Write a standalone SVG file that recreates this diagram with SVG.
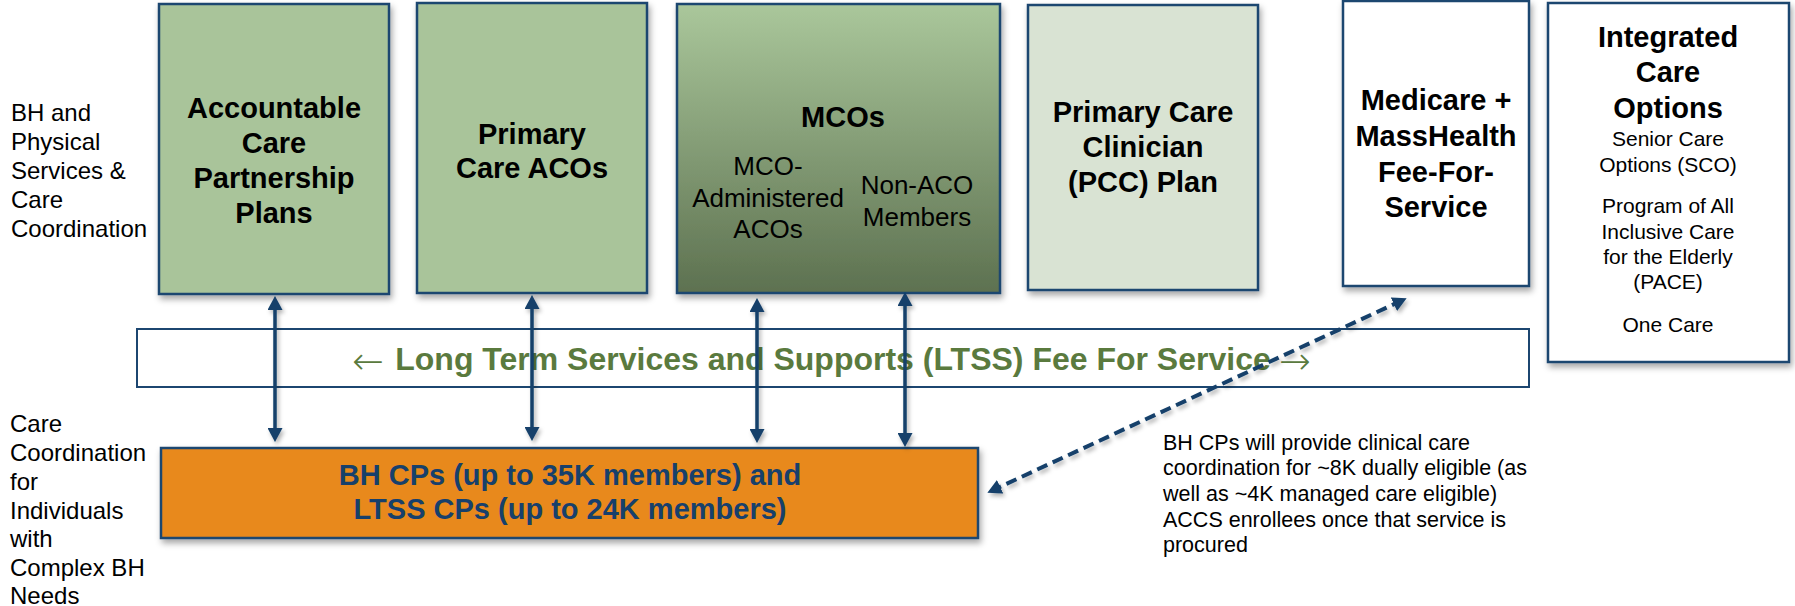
<svg xmlns="http://www.w3.org/2000/svg" width="1795" height="606" viewBox="0 0 1795 606">
  <style>
    text { font-family: "Liberation Sans", Arial, sans-serif; fill: #000; }
    .lbl { font-size: 24px; }
    .ttl { font-size: 29px; font-weight: bold; text-anchor: middle; }
    .sub { font-size: 26px; text-anchor: middle; }
    .sm { font-size: 21px; text-anchor: middle; }
    .note { font-size: 21.5px; }
    .box { stroke: #1c4670; stroke-width: 2.5; }
    .band { font-size: 32px; font-weight: bold; fill: #5a7a3e; }
    .band-arrow { font-family: "DejaVu Sans", sans-serif; font-weight: 200; font-size: 38px; fill: #5a7a3e; }
    .conn { stroke: #14406b; stroke-width: 3.5; fill: none; }
    .dash { stroke: #14406b; stroke-width: 4; fill: none; stroke-dasharray: 11 6; }
  </style>
  <defs>
    <filter id="shadow" x="-10%" y="-10%" width="125%" height="125%">
      <feDropShadow dx="2" dy="4" stdDeviation="3" flood-color="#000" flood-opacity="0.35"/>
    </filter>
    <filter id="lineShadow" x="-20%" y="-20%" width="140%" height="140%">
      <feDropShadow dx="2" dy="3" stdDeviation="2" flood-color="#000" flood-opacity="0.3"/>
    </filter>
    <linearGradient id="mcoFill" x1="0" y1="0" x2="0" y2="1">
      <stop offset="0" stop-color="#aac79b"/>
      <stop offset="1" stop-color="#5d7150"/>
    </linearGradient>
    <marker id="head" viewBox="0 0 14 15" markerWidth="14" markerHeight="15" refX="10" refY="7.5" orient="auto-start-reverse" markerUnits="userSpaceOnUse">
      <path d="M0,0 L14,7.5 L0,15 Z" fill="#14406b"/>
    </marker>
  </defs>

  <!-- row labels -->
  <g id="label-top">
    <text class="lbl" x="11" y="121">BH and</text>
    <text class="lbl" x="11" y="150">Physical</text>
    <text class="lbl" x="11" y="179">Services &amp;</text>
    <text class="lbl" x="11" y="208">Care</text>
    <text class="lbl" x="11" y="237">Coordination</text>
  </g>
  <g id="label-bottom">
    <text class="lbl" x="10" y="432">Care</text>
    <text class="lbl" x="10" y="461">Coordination</text>
    <text class="lbl" x="10" y="490">for</text>
    <text class="lbl" x="10" y="519">Individuals</text>
    <text class="lbl" x="10" y="547">with</text>
    <text class="lbl" x="10" y="576">Complex BH</text>
    <text class="lbl" x="10" y="604">Needs</text>
  </g>

  <!-- plan boxes -->
  <g id="acpp">
    <rect class="box" x="159" y="4" width="230" height="290" fill="#a9c49a" filter="url(#shadow)"/>
    <text class="ttl" x="274" y="118">Accountable</text>
    <text class="ttl" x="274" y="153">Care</text>
    <text class="ttl" x="274" y="188">Partnership</text>
    <text class="ttl" x="274" y="223">Plans</text>
  </g>
  <g id="primary-care-acos">
    <rect class="box" x="417" y="3" width="230" height="290" fill="#a9c49a" filter="url(#shadow)"/>
    <text class="ttl" x="532" y="144">Primary</text>
    <text class="ttl" x="532" y="178">Care ACOs</text>
  </g>
  <g id="mcos">
    <rect class="box" x="677" y="4" width="323" height="289" fill="url(#mcoFill)" filter="url(#shadow)"/>
    <text class="ttl" x="843" y="127">MCOs</text>
    <text class="sub" x="768" y="175">MCO-</text>
    <text class="sub" x="768" y="207">Administered</text>
    <text class="sub" x="768" y="238">ACOs</text>
    <text class="sub" x="917" y="194">Non-ACO</text>
    <text class="sub" x="917" y="226">Members</text>
  </g>
  <g id="pcc-plan">
    <rect class="box" x="1028" y="5" width="230" height="285" fill="#d9e3d3" filter="url(#shadow)"/>
    <text class="ttl" x="1143" y="122">Primary Care</text>
    <text class="ttl" x="1143" y="157">Clinician</text>
    <text class="ttl" x="1143" y="192">(PCC) Plan</text>
  </g>
  <g id="medicare-ffs">
    <rect class="box" x="1343" y="1" width="186" height="285" fill="#fff" filter="url(#shadow)"/>
    <text class="ttl" x="1436" y="110">Medicare +</text>
    <text class="ttl" x="1436" y="146">MassHealth</text>
    <text class="ttl" x="1436" y="182">Fee-For-</text>
    <text class="ttl" x="1436" y="217">Service</text>
  </g>
  <g id="integrated-care">
    <rect class="box" x="1548" y="3" width="241" height="359" fill="#fff" filter="url(#shadow)"/>
    <text class="ttl" x="1668" y="47">Integrated</text>
    <text class="ttl" x="1668" y="82">Care</text>
    <text class="ttl" x="1668" y="118">Options</text>
    <text class="sm" x="1668" y="146">Senior Care</text>
    <text class="sm" x="1668" y="172">Options (SCO)</text>
    <text class="sm" x="1668" y="213">Program of All</text>
    <text class="sm" x="1668" y="239">Inclusive Care</text>
    <text class="sm" x="1668" y="264">for the Elderly</text>
    <text class="sm" x="1668" y="289">(PACE)</text>
    <text class="sm" x="1668" y="332">One Care</text>
  </g>

  <!-- LTSS band -->
  <g id="ltss-ffs">
    <rect x="137" y="329" width="1392" height="58" fill="#fff" stroke="#1c4670" stroke-width="2"/>
    <text class="band-arrow" x="352" y="374">←</text>
    <text class="band" x="833" y="370" text-anchor="middle">Long Term Services and Supports (LTSS) Fee For Service</text>
    <text class="band-arrow" x="1279" y="374">→</text>
  </g>

  <!-- community partners -->
  <g id="community-partners">
    <rect class="box" x="161" y="448" width="817" height="90" fill="#e8891e" filter="url(#shadow)"/>
    <text class="ttl" x="570" y="485" style="fill:#17406b">BH CPs (up to 35K members) and</text>
    <text class="ttl" x="570" y="519" style="fill:#17406b">LTSS CPs (up to 24K members)</text>
  </g>

  <g id="acc-note">
    <text class="note" x="1163" y="450">BH CPs will provide clinical care</text>
    <text class="note" x="1163" y="475">coordination for ~8K dually eligible (as</text>
    <text class="note" x="1163" y="501">well as ~4K managed care eligible)</text>
    <text class="note" x="1163" y="527">ACCS enrollees once that service is</text>
    <text class="note" x="1163" y="552">procured</text>
  </g>

  <!-- connectors -->
  <g id="connectors" filter="url(#lineShadow)">
    <line class="conn" x1="275" y1="300" x2="275" y2="438" marker-start="url(#head)" marker-end="url(#head)"/>
    <line class="conn" x1="532" y1="299" x2="532" y2="437" marker-start="url(#head)" marker-end="url(#head)"/>
    <line class="conn" x1="757" y1="302" x2="757" y2="439" marker-start="url(#head)" marker-end="url(#head)"/>
    <line class="conn" x1="905" y1="296" x2="905" y2="443" marker-start="url(#head)" marker-end="url(#head)"/>
    <line class="dash" x1="991" y1="491" x2="1403" y2="300" marker-start="url(#head)" marker-end="url(#head)"/>
  </g>
</svg>
